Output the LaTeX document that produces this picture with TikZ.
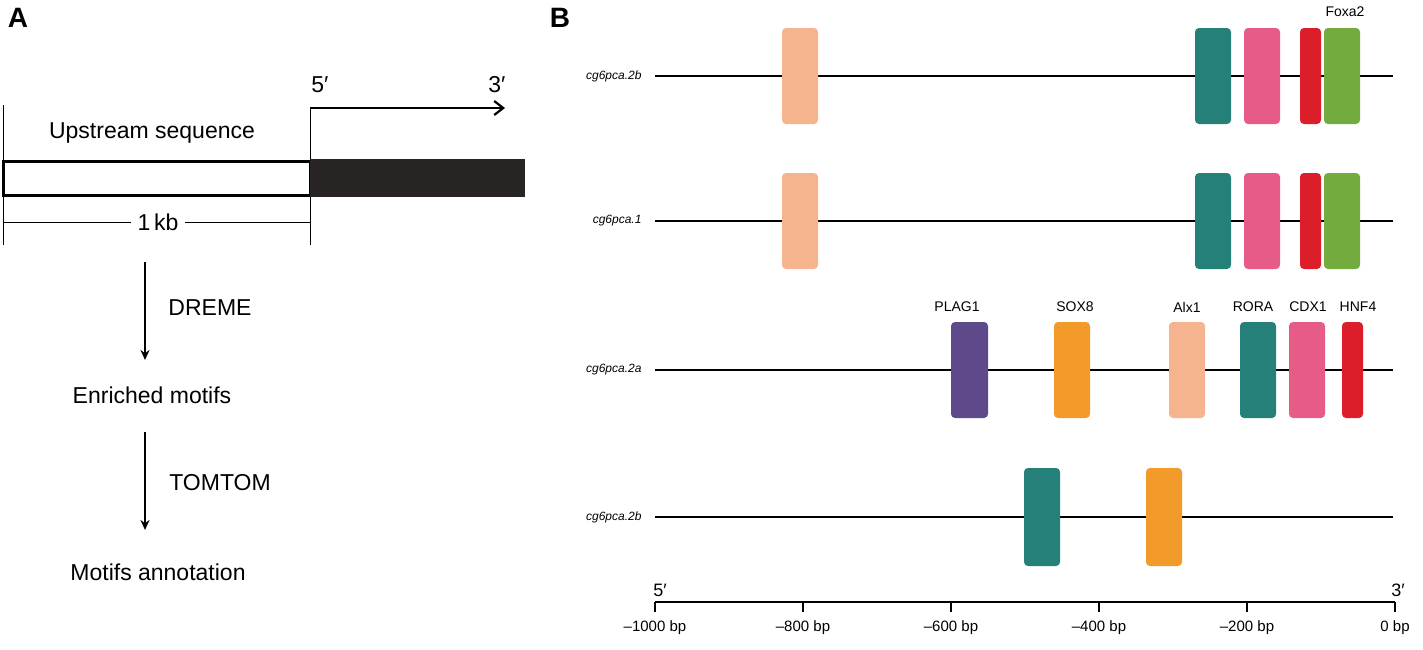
\documentclass[tikz,border=0pt]{standalone}
\usepackage{fontspec}
\setmainfont{Liberation Sans}
\begin{document}
\begin{tikzpicture}[x=1pt,y=-1pt,
  motif/.style={rounded corners=4pt,draw=none},
  big/.style={font=\fontsize{23}{26}\selectfont},
  rowlab/.style={font=\fontsize{12}{14}\selectfont\itshape,anchor=east},
  mlab/.style={font=\fontsize{14}{16}\selectfont},
  ticklab/.style={font=\fontsize{15}{17}\selectfont,anchor=north},
  flow/.style={line width=2.5pt,-{Stealth[length=10pt,width=9pt]}}]
\usetikzlibrary{arrows.meta}
\definecolor{peach}{HTML}{F5B48E}\definecolor{teal}{HTML}{26807A}
\definecolor{pinkm}{HTML}{E75C86}\definecolor{redm}{HTML}{DC1D2A}
\definecolor{greenm}{HTML}{74AB3E}\definecolor{purplem}{HTML}{5E4A8A}
\definecolor{orangem}{HTML}{F29A2A}
\useasboundingbox (0,0) rectangle (1423,649);
% Panel A
\node[font=\fontsize{28}{30}\selectfont\bfseries] (A) at (18,18) {A};
\node[font=\fontsize{28}{30}\selectfont\bfseries] (B) at (560,18) {B};
\draw[line width=1pt] (3,105) -- (3,245);
\draw[line width=1pt] (310,245) -- (310,108);
\coordinate (ts) at (310,108); \coordinate (te) at (505,108);
\draw[line width=2.2pt,-{Straight Barb[length=9pt,width=14pt]}] (ts) -- (te);
\node[big] (five) at (320,85) {5′};
\node[big] (three) at (497,85) {3′};
\node[big] (up) at (152,133) {Upstream sequence};
\draw[line width=3pt,fill=white] (3,161) rectangle (310,195);
\fill[black!95!olive] (310,159) rectangle (525,197);
\node[big,fill=white,inner xsep=6pt] (kb) at (158,222) {1\,kb};
\draw[line width=0.7pt] (3,222) -- (kb.west) (kb.east) -- (310,222);
\node[big] (em) at (152,395) {Enriched motifs};
\node[big] (ma) at (158,572) {Motifs annotation};
\coordinate (a1) at (145,262);
\draw[flow] (a1) -- (145,360);
\node[big] (dreme) at (210,308) {DREME};
\draw[flow] (145,432) -- (145,530);
\node[big] (tom) at (220,483) {TOMTOM};
% Panel B rows
\foreach \y/\l in {76/cg6pca.2b,221/cg6pca.1,370/cg6pca.2a,517/cg6pca.2b}{
  \draw[line width=2pt] (655,\y) -- (1393,\y);
  \node[rowlab] at (645,\y) {\l};}
\foreach \y in {76,221}{
  \fill[peach,motif] (782,\y-48) rectangle (818,\y+48);
  \fill[teal,motif] (1195,\y-48) rectangle (1231,\y+48);
  \fill[pinkm,motif] (1244,\y-48) rectangle (1280,\y+48);
  \fill[redm,motif] (1300,\y-48) rectangle (1321,\y+48);
  \fill[greenm,motif] (1324,\y-48) rectangle (1360,\y+48);}
\node[mlab] (foxa) at (1345,12) {Foxa2};
\fill[purplem,motif] (951,322) rectangle (988,418);
\fill[orangem,motif] (1054,322) rectangle (1090,418);
\fill[peach,motif] (1169,322) rectangle (1205,418);
\fill[teal,motif] (1240,322) rectangle (1276,418);
\fill[pinkm,motif] (1289,322) rectangle (1325,418);
\fill[redm,motif] (1342,322) rectangle (1363,418);
\node[mlab] at (957,307) {PLAG1};
\node[mlab] at (1075,307) {SOX8};
\node[mlab] at (1187,307) {Alx1};
\node[mlab] at (1253,307) {RORA};
\node[mlab] at (1308,307) {CDX1};
\node[mlab] at (1358,307) {HNF4};
\fill[teal,motif] (1024,468) rectangle (1060,566);
\fill[orangem,motif] (1146,468) rectangle (1182,566);
% axis
\draw[line width=2.5pt] (655,602) -- (1395,602);
\foreach \v/\t in {-1000/{\textendash1000 bp},-800/{\textendash800 bp},-600/{\textendash600 bp},-400/{\textendash400 bp},-200/{\textendash200 bp},0/{0 bp}}{
  \draw[line width=1.5pt] ({1395+0.74*\v},602) -- ({1395+0.74*\v},612);
  \node[ticklab] at ({1395+0.74*\v},617) {\t};}
\node[big,font=\fontsize{18}{20}\selectfont] at (660,590) {5′};
\node[big,font=\fontsize{18}{20}\selectfont] at (1398,590) {3′};
\end{tikzpicture}
\end{document}
